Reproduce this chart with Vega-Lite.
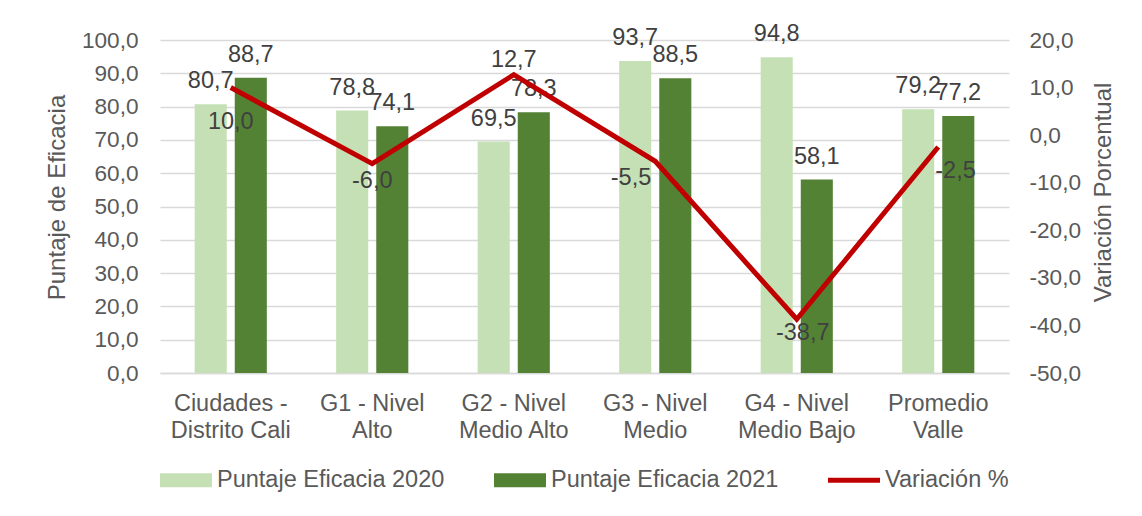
{
  "$schema": "https://vega.github.io/schema/vega-lite/v6.json",
  "width": 849,
  "height": 333,
  "autosize": "none",
  "padding": {"left": 160, "top": 40, "right": 133, "bottom": 143},
  "background": "white",
  "config": {
    "locale": {"number": {"decimal": ",", "thousands": ".", "grouping": [3], "currency": ["", ""], "minus": "-"}},
    "font": "Liberation Sans",
    "view": {"stroke": null},
    "axis": {"labelFont": "Liberation Sans", "titleFont": "Liberation Sans", "labelColor": "#595959", "titleColor": "#595959", "labelFontSize": 23.5, "titleFontSize": 24, "titleFontWeight": "normal", "ticks": false, "gridColor": "#D9D9D9", "gridWidth": 1.3},
    "legend": {"labelFont": "Liberation Sans", "labelFontSize": 23.5, "labelColor": "#595959", "labelLimit": 500}
  },
  "data": {
    "values": [
      {"categoria": "Ciudades - Distrito Cali", "serie": "Puntaje Eficacia 2020", "valor": 80.7},
      {"categoria": "Ciudades - Distrito Cali", "serie": "Puntaje Eficacia 2021", "valor": 88.7},
      {"categoria": "Ciudades - Distrito Cali", "serie": "Variación %", "valor": 10.0},
      {"categoria": "G1 - Nivel Alto", "serie": "Puntaje Eficacia 2020", "valor": 78.8},
      {"categoria": "G1 - Nivel Alto", "serie": "Puntaje Eficacia 2021", "valor": 74.1},
      {"categoria": "G1 - Nivel Alto", "serie": "Variación %", "valor": -6.0},
      {"categoria": "G2 - Nivel Medio Alto", "serie": "Puntaje Eficacia 2020", "valor": 69.5},
      {"categoria": "G2 - Nivel Medio Alto", "serie": "Puntaje Eficacia 2021", "valor": 78.3},
      {"categoria": "G2 - Nivel Medio Alto", "serie": "Variación %", "valor": 12.7},
      {"categoria": "G3 - Nivel Medio", "serie": "Puntaje Eficacia 2020", "valor": 93.7},
      {"categoria": "G3 - Nivel Medio", "serie": "Puntaje Eficacia 2021", "valor": 88.5},
      {"categoria": "G3 - Nivel Medio", "serie": "Variación %", "valor": -5.5},
      {"categoria": "G4 - Nivel Medio Bajo", "serie": "Puntaje Eficacia 2020", "valor": 94.8},
      {"categoria": "G4 - Nivel Medio Bajo", "serie": "Puntaje Eficacia 2021", "valor": 58.1},
      {"categoria": "G4 - Nivel Medio Bajo", "serie": "Variación %", "valor": -38.7},
      {"categoria": "Promedio Valle", "serie": "Puntaje Eficacia 2020", "valor": 79.2},
      {"categoria": "Promedio Valle", "serie": "Puntaje Eficacia 2021", "valor": 77.2},
      {"categoria": "Promedio Valle", "serie": "Variación %", "valor": -2.5}
    ]
  },
  "encoding": {
    "x": {
      "field": "categoria", "type": "nominal",
      "sort": ["Ciudades - Distrito Cali", "G1 - Nivel Alto", "G2 - Nivel Medio Alto", "G3 - Nivel Medio", "G4 - Nivel Medio Bajo", "Promedio Valle"],
      "scale": {"paddingInner": 0.49, "paddingOuter": 0.245},
      "axis": {"title": null, "labelAngle": 0, "labelPadding": 18, "labelLineHeight": 27, "labelBaseline": "top", "domainColor": "#D9D9D9", "domainWidth": 1.3,
        "labelExpr": "{'Ciudades - Distrito Cali': ['Ciudades -', 'Distrito Cali'], 'G1 - Nivel Alto': ['G1 - Nivel', 'Alto'], 'G2 - Nivel Medio Alto': ['G2 - Nivel', 'Medio Alto'], 'G3 - Nivel Medio': ['G3 - Nivel', 'Medio'], 'G4 - Nivel Medio Bajo': ['G4 - Nivel', 'Medio Bajo'], 'Promedio Valle': ['Promedio', 'Valle']}[datum.value]"}
    }
  },
  "layer": [
    {
      "transform": [{"filter": "datum.serie !== 'Variación %'"}],
      "encoding": {
        "y": {"field": "valor", "type": "quantitative", "scale": {"domain": [0, 100], "nice": false}, "axis": {"orient": "left", "title": "Puntaje de Eficacia", "values": [0, 10, 20, 30, 40, 50, 60, 70, 80, 90, 100], "format": ".1f", "domain": false, "labelFontSize": 22.6, "labelPadding": 22, "titlePadding": 12, "titleAngle": 270, "titleBaseline": "bottom", "titleY": 157, "grid": true}},
        "xOffset": {"field": "serie", "type": "nominal", "scale": {"paddingInner": 0.2, "paddingOuter": 0}}
      },
      "layer": [
        {
          "mark": {"type": "bar"},
          "encoding": {
            "color": {
              "field": "serie", "type": "nominal",
              "scale": {"domain": ["Puntaje Eficacia 2020", "Puntaje Eficacia 2021", "Variación %"], "range": ["#C5E0B4", "#548235", "#C00000"]},
              "legend": {"title": null, "orient": "none", "legendX": 0, "legendY": 414, "direction": "horizontal", "columns": 3, "columnPadding": 49, "symbolSize": 2704, "labelOffset": 5,
                "encode": {"symbols": {"update": {"shape": {"signal": "datum.value === 'Variación %' ? 'M-1,-0.1H1V0.1H-1Z' : 'M-1,-0.27H1V0.27H-1Z'"}, "fill": {"scale": "color", "field": "value"}, "stroke": {"value": "transparent"}, "strokeWidth": {"value": 0}, "opacity": {"value": 1}, "fillOpacity": {"value": 1}}}}}
            }
          }
        },
        {
          "mark": {"type": "text", "baseline": "alphabetic", "dy": -16, "fontSize": 23.5, "color": "#404040"},
          "encoding": {"text": {"field": "valor", "type": "quantitative", "format": ".1f"}}
        }
      ]
    },
    {
      "transform": [{"filter": "datum.serie === 'Variación %'"}],
      "encoding": {
        "y": {"field": "valor", "type": "quantitative", "scale": {"domain": [-50, 20], "nice": false}, "axis": {"orient": "right", "title": "Variación Porcentual", "values": [-50, -40, -30, -20, -10, 0, 10, 20], "format": ".1f", "domain": false, "grid": false, "labelFontSize": 22.6, "labelPadding": 20, "titlePadding": 11, "titleAngle": 270, "titleBaseline": "top", "titleY": 152}}
      },
      "layer": [
        {
          "mark": {"type": "line", "strokeWidth": 5},
          "encoding": {"color": {"field": "serie", "type": "nominal"}}
        },
        {
          "transform": [{"filter": "datum.categoria === 'Ciudades - Distrito Cali'"}],
          "mark": {"type": "text", "baseline": "alphabetic", "dy": 41, "fontSize": 23.5, "color": "#404040"},
          "encoding": {"text": {"field": "valor", "type": "quantitative", "format": ".1f"}}
        },
        {
          "transform": [{"filter": "datum.categoria === 'G1 - Nivel Alto'"}],
          "mark": {"type": "text", "baseline": "alphabetic", "dy": 24, "fontSize": 23.5, "color": "#404040"},
          "encoding": {"text": {"field": "valor", "type": "quantitative", "format": ".1f"}}
        },
        {
          "transform": [{"filter": "datum.categoria === 'G2 - Nivel Medio Alto'"}],
          "mark": {"type": "text", "baseline": "alphabetic", "dy": -8, "fontSize": 23.5, "color": "#404040"},
          "encoding": {"text": {"field": "valor", "type": "quantitative", "format": ".1f"}}
        },
        {
          "transform": [{"filter": "datum.categoria === 'G3 - Nivel Medio'"}],
          "mark": {"type": "text", "baseline": "alphabetic", "align": "right", "dx": -4, "dy": 24, "fontSize": 23.5, "color": "#404040"},
          "encoding": {"text": {"field": "valor", "type": "quantitative", "format": ".1f"}}
        },
        {
          "transform": [{"filter": "datum.categoria === 'G4 - Nivel Medio Bajo'"}],
          "mark": {"type": "text", "baseline": "alphabetic", "dx": 6, "dy": 21, "fontSize": 23.5, "color": "#404040"},
          "encoding": {"text": {"field": "valor", "type": "quantitative", "format": ".1f"}}
        },
        {
          "transform": [{"filter": "datum.categoria === 'Promedio Valle'"}],
          "mark": {"type": "text", "baseline": "alphabetic", "align": "left", "dx": -3, "dy": 31, "fontSize": 23.5, "color": "#404040"},
          "encoding": {"text": {"field": "valor", "type": "quantitative", "format": ".1f"}}
        }
      ]
    }
  ],
  "resolve": {"scale": {"y": "independent"}}
}
